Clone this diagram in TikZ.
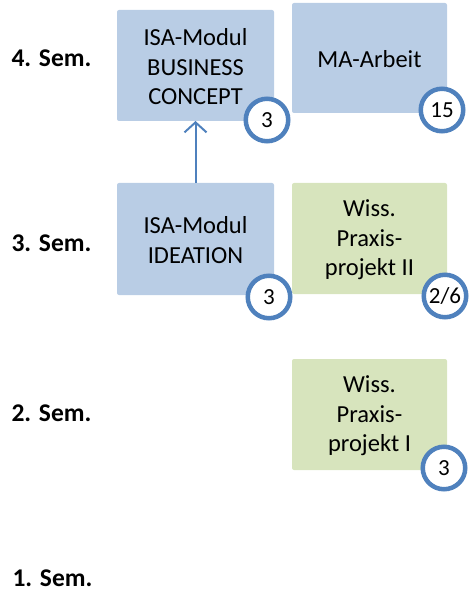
\documentclass[tikz,border=0pt]{standalone}
\usepackage{fontspec}
\setmainfont{Carlito}
\usetikzlibrary{arrows.meta}
\definecolor{boxblue}{HTML}{B9CDE5}
\definecolor{boxgreen}{HTML}{D7E4BD}
\definecolor{ringblue}{HTML}{4F81BD}
\begin{document}
\begin{tikzpicture}[x=1pt,y=-1pt,
  boxtext/.style={align=center, font=\fontsize{24.5}{29.5}\selectfont, text=black},
  credit/.style={circle, draw=ringblue, line width=4.5pt, fill=white, minimum size=42.5pt, inner sep=0pt, font=\fontsize{23}{27}\selectfont},
  semlabel/.style={anchor=west, font=\bfseries\fontsize{25.5}{30}\selectfont},
  conn/.style={draw=ringblue, line width=2pt, -{Straight Barb[length=10pt,width=22pt,line width=2pt]}}
]
\useasboundingbox (0,0) rectangle (468,601);

% boxes
\fill[boxblue, rounded corners=2pt] (117,10) rectangle (274,121);
\node[boxtext] (bc) at (195.5,67) {ISA-Modul\\BUSINESS\\CONCEPT};
\coordinate (bcBot) at (195.5,121);

\fill[boxblue, rounded corners=2pt] (292,3) rectangle (447,113);
\node[boxtext] (ma) at (369.5,59) {MA-Arbeit};

\fill[boxblue, rounded corners=2pt] (117,183) rectangle (274,295);
\node[boxtext] (id) at (195.5,240) {ISA-Modul\\IDEATION};
\coordinate (idTop) at (195.5,183);

\fill[boxgreen, rounded corners=2pt] (292,183) rectangle (447,294);
\node[boxtext] (wp2) at (369.5,240) {Wiss.\\Praxis-\\projekt II};

\fill[boxgreen, rounded corners=2pt] (292,359) rectangle (447,470);
\node[boxtext] (wp1) at (369.5,416) {Wiss.\\Praxis-\\projekt I};

% connector
\draw[conn] (idTop) -- (bcBot);

% credit circles
\node[credit] (c1) at (267,120) {3};
\node[credit] (c2) at (442,110) {15};
\node[credit] (c3) at (269,297) {3};
\node[credit] (c4) at (445,296) {2/6};
\node[credit] (c5) at (444,468) {3};

% semester labels
\node[semlabel] (s4) at (8,58) {4. Sem.};
\node[semlabel] (s3) at (8,243) {3. Sem.};
\node[semlabel] (s2) at (8,413) {2. Sem.};
\node[semlabel] (s1) at (9,578) {1. Sem.};
\end{tikzpicture}
\end{document}
